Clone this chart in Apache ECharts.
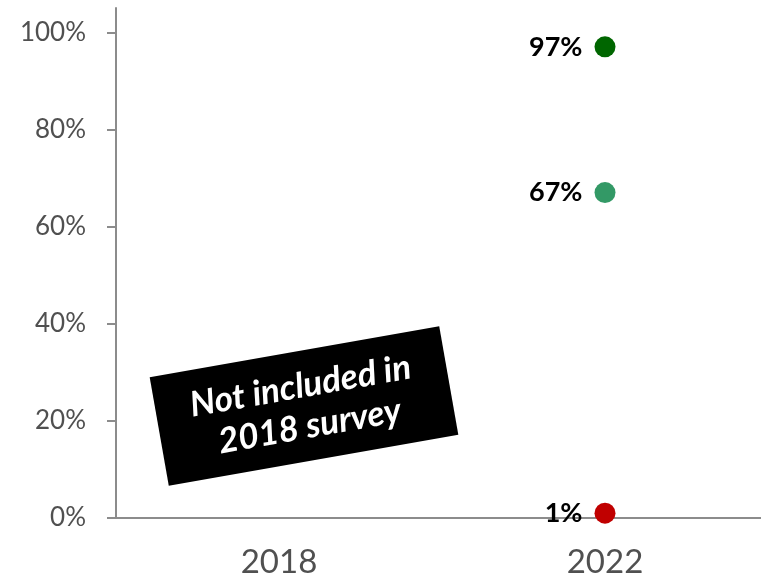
<!DOCTYPE html>
<html>
<head>
<meta charset="utf-8">
<script src="https://cdn.jsdelivr.net/npm/echarts@6/dist/echarts.min.js"></script>
<style>html,body{margin:0;padding:0;background:#fff}#c{width:761px;height:583px}</style>
</head>
<body>
<div id="c"></div>
<script>
var categories = ['2018', '2022'];
var seriesNames = ['Top', 'Middle', 'Bottom'];
var values97 = [null, 97];
var values67 = [null, 67];
var values1 = [null, 1];
var yTicks = [0, 20, 40, 60, 80, 100];
var noteLines = ['Not included in', '2018 survey'];

var FONT = 'Lato, "Open Sans", sans-serif';
var chart = echarts.init(document.getElementById('c'), null, {renderer: 'canvas'});

function mk(name, data, color) {
  return {
    name: name, type: 'scatter', data: data, symbolSize: 21,
    itemStyle: {color: color, opacity: 1},
    label: {show: true, position: 'left', distance: 12, color: '#000', fontWeight: 'bold',
      fontSize: 27, fontFamily: FONT, formatter: function (p) { return p.value + '%'; }},
    emphasis: {disabled: true}, animation: false
  };
}

chart.setOption({
  animation: false,
  grid: {left: 116, top: 8, bottom: 65, width: 652, containLabel: false, outerBoundsMode: 'none'},
  xAxis: {
    type: 'category', data: categories, boundaryGap: true,
    axisLine: {lineStyle: {color: '#8c8c8c', width: 2}},
    axisTick: {show: false},
    axisLabel: {color: '#505050', fontSize: 33, fontFamily: FONT, margin: 28},
    splitLine: {show: false}
  },
  yAxis: {
    type: 'value', min: 0, max: 105, interval: 20,
    axisLine: {show: true, lineStyle: {color: '#8c8c8c', width: 2}},
    axisTick: {show: true, length: 9, inside: false, customValues: yTicks, lineStyle: {color: '#8c8c8c', width: 2}},
    axisLabel: {color: '#505050', fontSize: 26, fontFamily: FONT, margin: 30, customValues: yTicks,
      formatter: function (v) { return v + '%'; }},
    splitLine: {show: false}
  },
  series: [
    mk(seriesNames[0], values97, '#006600'),
    mk(seriesNames[1], values67, '#339966'),
    mk(seriesNames[2], values1, '#C00000')
  ],
  graphic: [{
    type: 'group', x: 304, y: 406, rotation: 10 * Math.PI / 180,
    children: [
      {type: 'rect', shape: {x: -147, y: -55, width: 294, height: 110}, style: {fill: '#000'}},
      {type: 'text', x: 0, y: -20, style: {text: noteLines[0], fill: '#fff', font: 'italic bold 35px ' + FONT, align: 'center', verticalAlign: 'middle'}},
      {type: 'text', x: 2, y: 21, style: {text: noteLines[1], fill: '#fff', font: 'italic bold 35px ' + FONT, align: 'center', verticalAlign: 'middle'}}
    ]
  }]
});
</script>
</body>
</html>
